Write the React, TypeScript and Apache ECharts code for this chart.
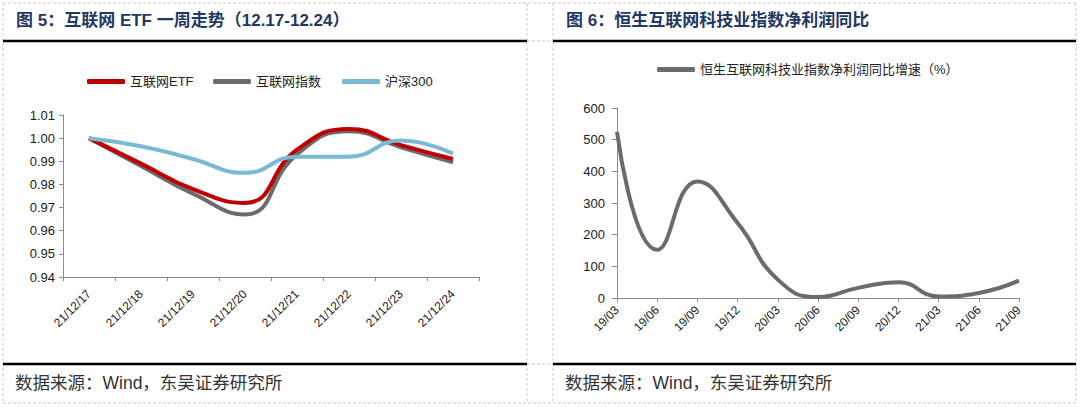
import React, { useEffect, useRef } from "react";
import * as echarts from "echarts";

// ---- Data: left chart (互联网ETF 一周走势)
const weekDays = ["21/12/17", "21/12/18", "21/12/19", "21/12/20", "21/12/21", "21/12/22", "21/12/23", "21/12/24"];
const etfValues = [1.0, 0.989, 0.978, 0.972, 0.995, 1.004, 0.997, 0.991];
const indexValues = [1.0, 0.988, 0.976, 0.967, 0.993, 1.003, 0.996, 0.9895];
const hs300Values = [1.0, 0.9965, 0.991, 0.985, 0.992, 0.992, 0.999, 0.9933];
const leftTicks = { min: 0.94, max: 1.01, interval: 0.01 };

// ---- Data: right chart (恒生互联网科技业指数净利润同比)
const quarters = ["19/03", "19/06", "19/09", "19/12", "20/03", "20/06", "20/09", "20/12", "21/03", "21/06", "21/09"];
const profitGrowth = [525, 152, 368, 237, 58, 3, 32, 50, 5, 16, 55];
const rightTicks = { min: 0, max: 600, interval: 100 };

const names = {
  etf: "互联网ETF",
  idx: "互联网指数",
  hs: "沪深300",
  growth: "恒生互联网科技业指数净利润同比增速（%）",
};

const FONT = "'Liberation Sans', Arial, 'Noto Sans CJK SC', sans-serif";
const TITLE_COLOR = "#1f3864";
const AXIS_COLOR = "#8c8c8c";
const dash = { stroke: "#c8c8c8", lineWidth: 1, lineDash: [3, 2] };
const solid = { stroke: "#000", lineWidth: 2.5 };

function hLine(x1: number, x2: number, y: number, style: any) {
  return { type: "line", shape: { x1, y1: y, x2, y2: y }, style, silent: true };
}
function vLine(x: number, y1: number, y2: number, style: any) {
  return { type: "line", shape: { x1: x, y1, x2: x, y2 }, style, silent: true };
}

export default function App() {
  const ref = useRef<HTMLDivElement>(null);
  useEffect(() => {
    const chart = echarts.init(ref.current!, null, { renderer: "svg", width: 1080, height: 407 });
    const legendText = { fontSize: 13, color: "#222", fontFamily: FONT };
    const legendBase = {
      orient: "horizontal",
      icon: "roundRect",
      itemWidth: 38,
      itemHeight: 5,
      padding: 0,
      textStyle: legendText,
      selectedMode: false,
    };
    const axisLabelY = { fontSize: 13, color: "#1a1a1a", fontFamily: FONT };
    const option: any = {
      animation: false,
      backgroundColor: "#fff",
      graphic: [
        // dashed table frame
        hLine(3, 1076, 3, dash),
        hLine(3, 1076, 403, dash),
        vLine(3, 3, 403, dash),
        vLine(527, 3, 403, dash),
        vLine(553, 3, 403, dash),
        vLine(1076, 3, 403, dash),
        hLine(527, 553, 41, dash),
        hLine(527, 553, 364, dash),
        // solid black rules
        hLine(3, 527, 41, solid),
        hLine(553, 1076, 41, solid),
        hLine(3, 527, 364, solid),
        hLine(553, 1076, 364, solid),
        // titles
        {
          type: "text",
          x: 16,
          y: 20,
          style: {
            text: "图 5：互联网 ETF 一周走势（12.17-12.24）",
            fill: TITLE_COLOR,
            font: `bold 17px ${FONT}`,
            verticalAlign: "middle",
          },
        },
        {
          type: "text",
          x: 566,
          y: 20,
          style: {
            text: "图 6：恒生互联网科技业指数净利润同比",
            fill: TITLE_COLOR,
            font: `bold 17px ${FONT}`,
            verticalAlign: "middle",
          },
        },
        // sources
        {
          type: "text",
          x: 15,
          y: 383,
          style: { text: "数据来源：Wind，东吴证券研究所", fill: "#333", font: `17.5px ${FONT}`, verticalAlign: "middle" },
        },
        {
          type: "text",
          x: 565,
          y: 383,
          style: { text: "数据来源：Wind，东吴证券研究所", fill: "#333", font: `17.5px ${FONT}`, verticalAlign: "middle" },
        },
      ],
      legend: [
        { ...legendBase, data: [names.etf], left: 87, top: 75 },
        { ...legendBase, data: [names.idx], left: 213, top: 75 },
        { ...legendBase, data: [names.hs], left: 342, top: 75 },
        { ...legendBase, data: [names.growth], left: 657, top: 63 },
      ],
      grid: [
        { left: 63, top: 115, width: 416, height: 162 },
        { left: 617, top: 108, width: 402, height: 190 },
      ],
      xAxis: [
        {
          type: "category",
          gridIndex: 0,
          data: weekDays,
          boundaryGap: true,
          axisLine: { lineStyle: { color: AXIS_COLOR } },
          axisTick: { show: true, length: 4, lineStyle: { color: AXIS_COLOR } },
          axisLabel: { rotate: 45, margin: 15, fontSize: 12, color: "#1a1a1a", fontFamily: FONT, interval: 0 },
        },
        {
          type: "category",
          gridIndex: 1,
          data: quarters,
          boundaryGap: false,
          axisLine: { lineStyle: { color: AXIS_COLOR } },
          axisTick: { show: true, length: 4, lineStyle: { color: AXIS_COLOR } },
          axisLabel: { rotate: 45, margin: 10, fontSize: 12, color: "#1a1a1a", fontFamily: FONT, interval: 0 },
        },
      ],
      yAxis: [
        {
          type: "value",
          gridIndex: 0,
          min: leftTicks.min,
          max: leftTicks.max,
          interval: leftTicks.interval,
          axisLine: { show: true, lineStyle: { color: AXIS_COLOR } },
          axisTick: { show: true, length: 4, lineStyle: { color: AXIS_COLOR } },
          splitLine: { show: false },
          axisLabel: { ...axisLabelY, margin: 8, formatter: (v: number) => v.toFixed(2) },
        },
        {
          type: "value",
          gridIndex: 1,
          min: rightTicks.min,
          max: rightTicks.max,
          interval: rightTicks.interval,
          axisLine: { show: true, lineStyle: { color: AXIS_COLOR } },
          axisTick: { show: true, length: 5, lineStyle: { color: AXIS_COLOR } },
          splitLine: { show: false },
          axisLabel: { ...axisLabelY, margin: 12 },
        },
      ],
      series: [
        {
          name: names.etf,
          type: "line",
          xAxisIndex: 0,
          yAxisIndex: 0,
          data: etfValues,
          smooth: true,
          showSymbol: false,
          color: "#c00000",
          lineStyle: { width: 4, color: "#c00000" },
          z: 3,
        },
        {
          name: names.idx,
          type: "line",
          xAxisIndex: 0,
          yAxisIndex: 0,
          data: indexValues,
          smooth: true,
          showSymbol: false,
          color: "#6b6b6b",
          lineStyle: { width: 4, color: "#6b6b6b" },
          z: 2,
        },
        {
          name: names.hs,
          type: "line",
          xAxisIndex: 0,
          yAxisIndex: 0,
          data: hs300Values,
          smooth: true,
          showSymbol: false,
          color: "#7ab8d4",
          lineStyle: { width: 4, color: "#7ab8d4" },
          z: 4,
        },
        {
          name: names.growth,
          type: "line",
          xAxisIndex: 1,
          yAxisIndex: 1,
          data: profitGrowth,
          smooth: true,
          showSymbol: false,
          color: "#6b6b6b",
          lineStyle: { width: 4, color: "#6b6b6b" },
        },
      ],
    };
    chart.setOption(option);
    return () => chart.dispose();
  }, []);
  return (
    <div
      ref={ref}
      style={{ position: "absolute", left: 0, top: 0, width: 1080, height: 407, background: "#fff" }}
    />
  );
}
